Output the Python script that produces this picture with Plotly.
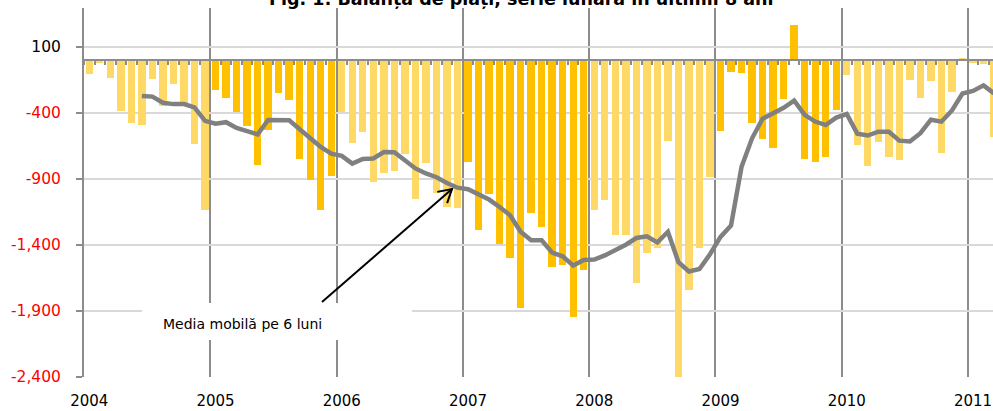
import math
import plotly.graph_objects as go

# ---- data (monthly, Jan 2004 .. Mar 2011), mil. EUR ----
years = ["2004", "2005", "2006", "2007", "2008", "2009", "2010", "2011"]
bal_2004 = [-106, -20, -137, -382, -479, -489, -139, -344, -182, -339, -638, -1132]
bal_2005 = [-229, -290, -390, -496, -791, -531, -251, -299, -745, -904, -1138, -875]
bal_2006 = [-390, -630, -547, -922, -852, -837, -711, -1049, -778, -1008, -1114, -1118]
bal_2007 = [-770, -1283, -1013, -1390, -1495, -1876, -1156, -1262, -1570, -1549, -1945, -1587]
bal_2008 = [-1137, -1063, -1326, -1326, -1688, -1458, -1422, -610, -2410, -1739, -1423, -884]
bal_2009 = [-534, -91, -101, -473, -595, -663, -291, 267, -747, -770, -732, -379]
bal_2010 = [-116, -639, -800, -619, -737, -758, -154, -283, -159, -707, -240, 13]
bal_2011 = [-18, -30, -580]

# 6-month moving average, starting Jun 2004
ma_2004 = [-271, -276, -323, -333, -333, -358, -460]
ma_2005 = [-482, -470, -513, -538, -563, -453, -450, -455, -523, -593, -658, -708]
ma_2006 = [-725, -784, -748, -745, -696, -697, -755, -820, -858, -887, -930, -966]
ma_2007 = [-978, -1018, -1056, -1112, -1175, -1300, -1365, -1365, -1458, -1486, -1556, -1514]
ma_2008 = [-1510, -1479, -1441, -1398, -1347, -1334, -1380, -1300, -1530, -1601, -1582, -1470]
ma_2009 = [-1339, -1252, -808, -592, -443, -405, -361, -307, -415, -465, -492, -435]
ma_2010 = [-408, -557, -571, -542, -542, -610, -616, -553, -451, -466, -381, -253]
ma_2011 = [-233, -191, -252]

ytick_vals = [100, -400, -900, -1400, -1900, -2400]

LIGHT = "#FFD966"
DARK = "#FFC000"
year_colors = [LIGHT, DARK, LIGHT, DARK, LIGHT, DARK, LIGHT, LIGHT]

yearly_bal = [bal_2004, bal_2005, bal_2006, bal_2007, bal_2008, bal_2009, bal_2010, bal_2011]
balance = [v for yb in yearly_bal for v in yb]
colors = [year_colors[k] for k, yb in enumerate(yearly_bal) for _ in yb]
xpos = [i + 0.5 for i in range(len(balance))]

ma = ma_2004 + ma_2005 + ma_2006 + ma_2007 + ma_2008 + ma_2009 + ma_2010 + ma_2011
ma_x = [i + 0.5 for i in range(5, 5 + len(ma))]

Y_MIN, Y_MAX = -2400, 395
X_MAX = 86.4
GRID = "#D9D9D9"
AXC = "#8C8C8C"
FONT = "DejaVu Sans"
ML, MT, MB = 84, 8, 34
PW = 993 - ML
PH = 411 - MT - MB

fig = go.Figure()
fig.add_trace(go.Bar(x=xpos, y=balance, width=0.7, marker=dict(color=colors, line=dict(width=0)),
                     showlegend=False, xaxis="x", yaxis="y"))
fig.add_trace(go.Scatter(x=ma_x, y=ma, mode="lines", line=dict(color="#808080", width=4.5),
                         showlegend=False, xaxis="x2", yaxis="y"))

ytext = [("%s" % format(v, ",")) if v > 0 else "<span style='color:#FF0000'>%s</span>" % format(v, ",")
         for v in ytick_vals]

fig.update_layout(
    template="none",
    width=993, height=411, autosize=False,
    margin=dict(l=ML, r=0, t=MT, b=MB, pad=0),
    paper_bgcolor="white", plot_bgcolor="white",
    bargap=0,
    font=dict(family=FONT, color="black"),
    yaxis=dict(range=[Y_MIN, Y_MAX], tickmode="array", tickvals=ytick_vals, ticktext=ytext,
               automargin=False,
               showgrid=True, gridcolor=GRID, gridwidth=2, zeroline=False,
               showline=True, linecolor=AXC, linewidth=2,
               ticks="outside", ticklen=6, tickwidth=2, tickcolor=AXC,
               ticklabelstandoff=12, tickfont=dict(family=FONT, size=15.5, color="black")),
    xaxis=dict(range=[0, X_MAX], tickmode="array", tickvals=[12 * k + 0.5 for k in range(len(years))],
               ticktext=years, showgrid=False, zeroline=False, showline=False, automargin=False,
               ticks="outside", ticklen=10, tickcolor="rgba(0,0,0,0)",
               tickfont=dict(family=FONT, size=15, color="black"),
               minor=dict(tickvals=[12 * k for k in range(len(years))], showgrid=True,
                          gridcolor=AXC, gridwidth=2)),
    xaxis2=dict(range=[0, X_MAX], overlaying="x", anchor="free", automargin=False,
                position=(0 - Y_MIN) / (Y_MAX - Y_MIN), side="bottom",
                tickmode="linear", tick0=0, dtick=1, ticks="outside", ticklen=4,
                tickwidth=1.5, tickcolor=AXC, showticklabels=False,
                showline=True, linecolor=AXC, linewidth=2, showgrid=False, zeroline=False),
)

# pixel helpers for annotation geometry
PX_M = PW / X_MAX
PX_U = PH / (Y_MAX - Y_MIN)


def px2x(px):
    return (px - ML) / PX_M


def px2y(py):
    return Y_MAX - (py - MT) / PX_U


# white label box
fig.add_shape(type="rect", x0=px2x(142), x1=px2x(412), y0=px2y(340), y1=px2y(303),
              xref="x", yref="y", fillcolor="white", line=dict(width=0), layer="between")
fig.add_annotation(x=px2x(161), y=px2y(324), xref="x", yref="y", xanchor="left", yanchor="middle",
                   text="Media mobilă pe 6 luni", showarrow=False,
                   font=dict(family=FONT, size=14, color="black"))

# arrow
tail = (322, 302)
tip = (452, 189)
fig.add_shape(type="line", x0=px2x(tail[0]), y0=px2y(tail[1]), x1=px2x(tip[0]), y1=px2y(tip[1]),
              xref="x", yref="y", line=dict(color="black", width=2), layer="above")
dx, dy = tip[0] - tail[0], tip[1] - tail[1]
L = math.hypot(dx, dy)
bx, by = -dx / L, -dy / L
arms = []
for ang in (math.radians(30), math.radians(-30)):
    rx = bx * math.cos(ang) - by * math.sin(ang)
    ry = bx * math.sin(ang) + by * math.cos(ang)
    arms.append((tip[0] + 15 * rx, tip[1] + 15 * ry))
path = "M %f %f L %f %f L %f %f" % (px2x(arms[0][0]), px2y(arms[0][1]), px2x(tip[0]), px2y(tip[1]),
                                    px2x(arms[1][0]), px2y(arms[1][1]))
fig.add_shape(type="path", path=path, xref="x", yref="y", line=dict(color="black", width=2), layer="above")

# title (partly cut off at the top in the reference)
fig.add_annotation(x=px2x(521), y=1, xref="x", yref="paper", yanchor="middle", yshift=9,
                   text="<b>Fig. 1: Balanța de plăți, serie lunară în ultimii 8 ani</b>",
                   showarrow=False, font=dict(family=FONT, size=17.5, color="black"))

fig.write_html("out.html", config={"displayModeBar": False},
               post_script="document.body.style.margin='0px';document.body.style.overflow='hidden';")
